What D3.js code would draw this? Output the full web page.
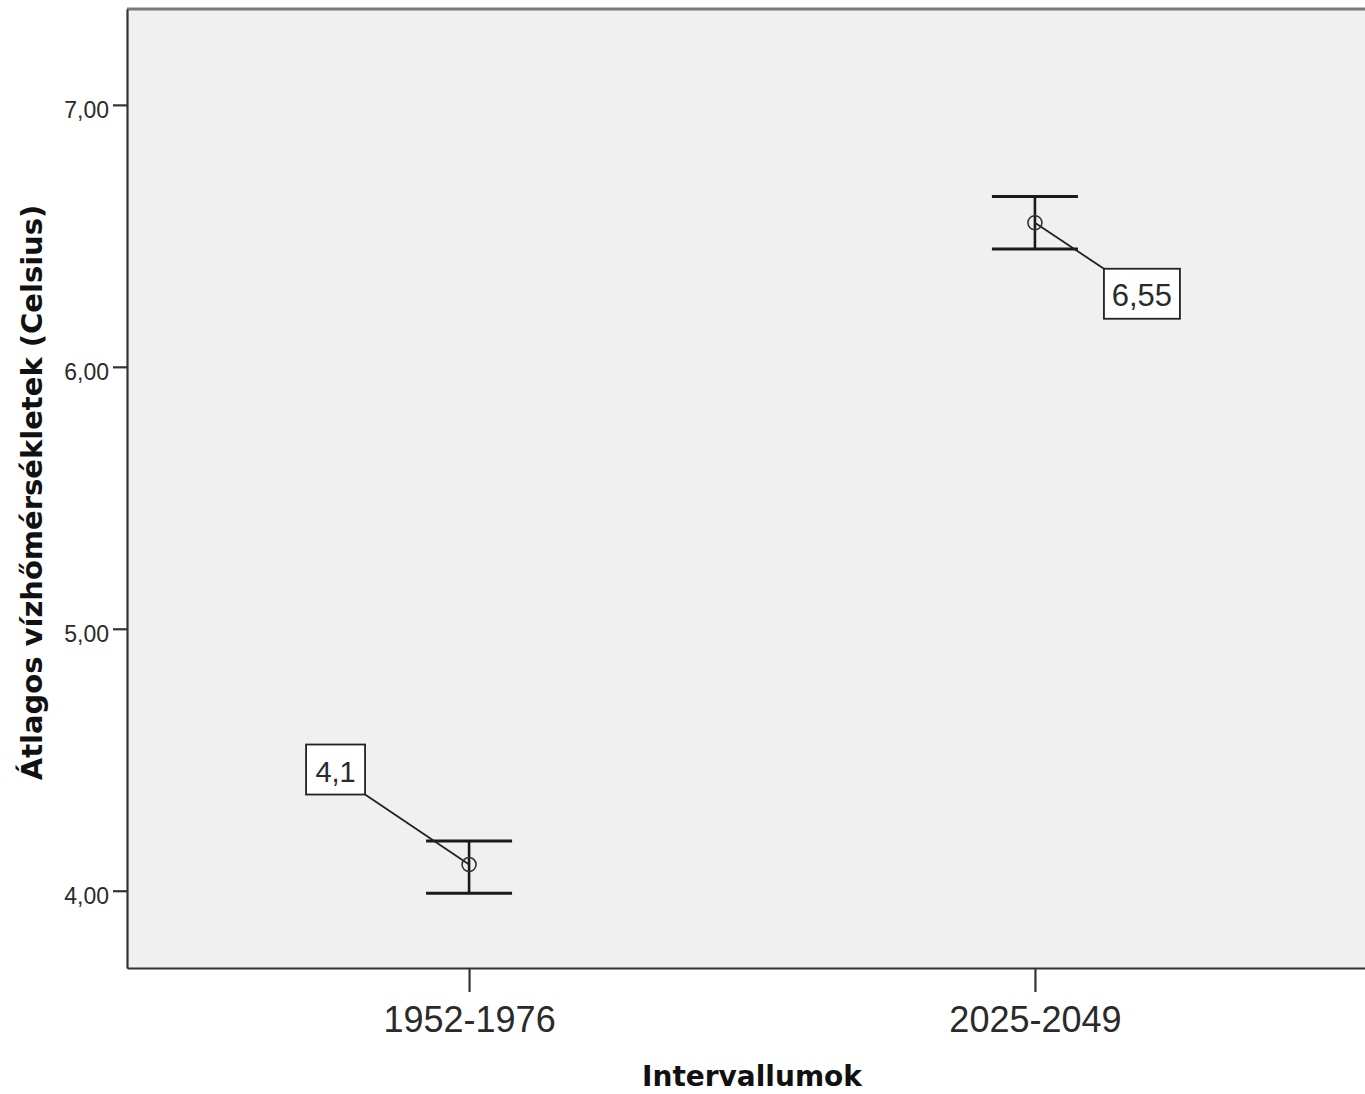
<!DOCTYPE html>
<html>
<head>
<meta charset="utf-8">
<script src="https://cdn.jsdelivr.net/npm/d3@7"></script>
<style>
  html, body { margin: 0; padding: 0; background: #ffffff; }
  svg { display: block; }
</style>
</head>
<body>
<div id="chart"></div>
<script>
// Mean water temperature per interval, with error bar limits
const categories = ["1952-1976", "2025-2049"];
const means = [4.1, 6.55];
const lowerLimits = [3.99, 6.45];
const upperLimits = [4.19, 6.65];
const meanLabels = ["4,1", "6,55"];
const yTickValues = [4, 5, 6, 7];
const yTitle = "Átlagos vízhőmérsékletek (Celsius)";
const xTitle = "Intervallumok";

const W = 1365, H = 1094;
const plot = { left: 127, right: 1377, top: 9, bottom: 968 };

const svg = d3.select("#chart").append("svg")
  .attr("width", W).attr("height", H);

const x = d3.scalePoint()
  .domain(categories)
  .range([plot.left, plot.right])
  .padding(0.6045);

const y = d3.scaleLinear()
  .domain([3.705, 7.366])
  .range([plot.bottom, plot.top]);

// plot background
svg.append("rect")
  .attr("x", plot.left).attr("y", plot.top)
  .attr("width", plot.right - plot.left).attr("height", plot.bottom - plot.top)
  .attr("fill", "#f0f0f0");

// top frame line
svg.append("line")
  .attr("x1", plot.left).attr("x2", plot.right)
  .attr("y1", plot.top).attr("y2", plot.top)
  .attr("stroke", "#7a7a7a").attr("stroke-width", 3);

// y axis
const fmt = d => d3.format(".2f")(d).replace(".", ",");
const yAxis = svg.append("g")
  .attr("transform", `translate(${plot.left},0)`)
  .call(d3.axisLeft(y).tickValues(yTickValues).tickSize(14).tickSizeOuter(0)
    .tickPadding(4).tickFormat(fmt));
yAxis.select(".domain").attr("stroke", "#333").attr("stroke-width", 2.2);
yAxis.selectAll(".tick line").attr("stroke", "#333").attr("stroke-width", 2.2);
yAxis.selectAll(".tick text")
  .attr("font-family", "'Liberation Sans', Arial, sans-serif")
  .attr("font-size", 23).attr("fill", "#2a2a2a")
  .attr("dy", "0.55em");

// x axis
const xAxis = svg.append("g")
  .attr("transform", `translate(0,${plot.bottom})`)
  .call(d3.axisBottom(x).tickSize(24).tickSizeOuter(0).tickPadding(8));
xAxis.select(".domain").attr("stroke", "#333").attr("stroke-width", 2.2);
xAxis.selectAll(".tick line").attr("stroke", "#333").attr("stroke-width", 2.2);
xAxis.selectAll(".tick text")
  .attr("font-family", "'Liberation Sans', Arial, sans-serif")
  .attr("font-size", 36).attr("fill", "#2a2a2a")
  .attr("dy", "0.88em");

// axis titles
svg.append("text")
  .attr("transform", `translate(42,${(plot.top + plot.bottom) / 2 + 4}) rotate(-90)`)
  .attr("text-anchor", "middle")
  .attr("font-family", "'DejaVu Sans', Verdana, sans-serif")
  .attr("font-weight", "bold").attr("font-size", 29).attr("fill", "#111")
  .text(yTitle);

svg.append("text")
  .attr("x", (plot.left + plot.right) / 2).attr("y", 1086)
  .attr("text-anchor", "middle")
  .attr("font-family", "'DejaVu Sans', Verdana, sans-serif")
  .attr("font-weight", "bold").attr("font-size", 28).attr("fill", "#111")
  .text(xTitle);

const rows = categories.map((c, i) => ({
  c, mean: means[i], lo: lowerLimits[i], hi: upperLimits[i], label: meanLabels[i]
}));

// error bars
const capHalf = 43;
const bars = svg.append("g").selectAll("g").data(rows).join("g");
bars.append("line")
  .attr("x1", d => x(d.c)).attr("x2", d => x(d.c))
  .attr("y1", d => y(d.lo)).attr("y2", d => y(d.hi))
  .attr("stroke", "#1a1a1a").attr("stroke-width", 2.6);
bars.append("line")
  .attr("x1", d => x(d.c) - capHalf).attr("x2", d => x(d.c) + capHalf)
  .attr("y1", d => y(d.hi)).attr("y2", d => y(d.hi))
  .attr("stroke", "#1a1a1a").attr("stroke-width", 3);
bars.append("line")
  .attr("x1", d => x(d.c) - capHalf).attr("x2", d => x(d.c) + capHalf)
  .attr("y1", d => y(d.lo)).attr("y2", d => y(d.lo))
  .attr("stroke", "#1a1a1a").attr("stroke-width", 3);

// value labels with leader lines (box offset from the mean point)
const boxes = [
  { dx: -163, dy: -120, w: 59, h: 50, corner: "br", size: 29 },
  { dx: 69, dy: 46, w: 76, h: 50, corner: "tl", size: 31 }
];
rows.forEach((d, i) => {
  const px = x(d.c), py = y(d.mean), b = boxes[i];
  const bx = px + b.dx, by = py + b.dy;
  const cx = b.corner === "br" ? bx + b.w : bx;
  const cy = b.corner === "br" ? by + b.h : by;
  svg.append("line")
    .attr("x1", px).attr("y1", py).attr("x2", cx).attr("y2", cy)
    .attr("stroke", "#222").attr("stroke-width", 1.8);
  svg.append("rect")
    .attr("x", bx).attr("y", by).attr("width", b.w).attr("height", b.h)
    .attr("fill", "#ffffff").attr("stroke", "#222").attr("stroke-width", 1.8);
  svg.append("text")
    .attr("x", bx + b.w / 2).attr("y", by + b.h / 2 + 12)
    .attr("text-anchor", "middle")
    .attr("font-family", "'Liberation Sans', Arial, sans-serif")
    .attr("font-size", b.size).attr("fill", "#2a2a2a")
    .text(d.label);
});

// mean markers
svg.append("g").selectAll("circle").data(rows).join("circle")
  .attr("cx", d => x(d.c)).attr("cy", d => y(d.mean)).attr("r", 7)
  .attr("fill", "none").attr("stroke", "#333").attr("stroke-width", 1.6);
</script>
</body>
</html>
